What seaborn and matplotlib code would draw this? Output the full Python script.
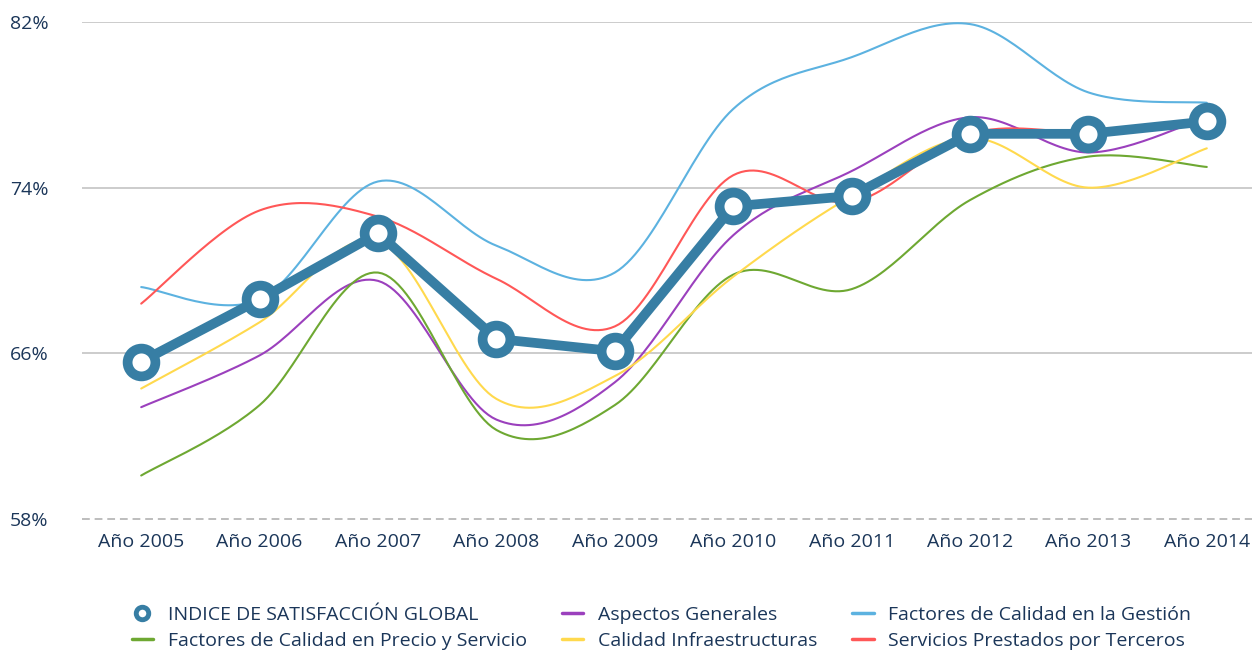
import numpy as np
import pandas as pd
import matplotlib
matplotlib.use("Agg")
import matplotlib.pyplot as plt
import seaborn as sns
from matplotlib.lines import Line2D

years = ["Año 2005", "Año 2006", "Año 2007", "Año 2008", "Año 2009",
         "Año 2010", "Año 2011", "Año 2012", "Año 2013", "Año 2014"]

indice_global = [65.6, 68.6, 71.8, 66.7, 66.1, 73.1, 73.6, 76.6, 76.6, 77.2]
aspectos_generales = [63.4, 65.9, 69.5, 62.8, 64.6, 71.7, 74.8, 77.4, 75.7, 77.4]
calidad_gestion = [69.2, 68.6, 74.3, 71.2, 69.9, 77.8, 80.3, 81.9, 78.6, 78.1]
precio_servicio = [60.1, 63.5, 69.9, 62.3, 63.5, 69.8, 69.1, 73.4, 75.5, 75.0]
infraestructuras = [64.3, 67.5, 71.4, 63.8, 64.9, 69.7, 73.6, 76.4, 74.0, 75.9]
servicios_terceros = [68.4, 72.9, 72.6, 69.6, 67.3, 74.6, 73.3, 76.6, 76.7, 77.0]

y_ticks = [58, 66, 74, 82]

navy = "#1b3659"
main_color = "#377ea4"

series = [
    ("Aspectos Generales", aspectos_generales, "#9b40bd"),
    ("Factores de Calidad en la Gestión", calidad_gestion, "#5cb2e0"),
    ("Factores de Calidad en Precio y Servicio", precio_servicio, "#6ea832"),
    ("Calidad Infraestructuras", infraestructuras, "#ffd94d"),
    ("Servicios Prestados por Terceros", servicios_terceros, "#ff5757"),
]


def smooth_curve(values, steps=30):
    # bezier smoothing like the "smoothed line" option of spreadsheet charts
    x = np.arange(len(values), dtype=float)
    y = np.asarray(values, dtype=float)
    xs, ys = [], []
    for i in range(len(x) - 1):
        i0, i3 = max(i - 1, 0), min(i + 2, len(x) - 1)
        p0, p1, p2, p3 = (np.array([x[j], y[j]]) for j in (i0, i, i + 1, i3))
        c1 = p1 + (p2 - p0) / 6
        c2 = p2 - (p3 - p1) / 6
        t = np.linspace(0, 1, steps)[:, None]
        pts = ((1 - t) ** 3) * p1 + 3 * ((1 - t) ** 2) * t * c1 + 3 * (1 - t) * t ** 2 * c2 + t ** 3 * p2
        xs.extend(pts[:, 0])
        ys.extend(pts[:, 1])
    return np.array(xs), np.array(ys)


sns.set_theme(style="white")
plt.rcParams['font.family'] = ['Open Sans', 'DejaVu Sans']

fig = plt.figure(figsize=(12.52, 6.53), dpi=100)
ax = fig.add_axes([82 / 1252, 1 - 519 / 653, (1266 - 82) / 1252, (519 - 22) / 653])

for label, vals, color in series:
    sx, sy = smooth_curve(vals)
    sns.lineplot(x=sx, y=sy, ax=ax, color=color, linewidth=1.5, sort=False, estimator=None)

df = pd.DataFrame({"x": range(len(years)), "y": indice_global})
sns.lineplot(data=df, x="x", y="y", ax=ax, color=main_color, linewidth=7)
sns.scatterplot(data=df, x="x", y="y", ax=ax, s=20 ** 2, color="white",
                edgecolor=main_color, linewidth=7, zorder=6)

ax.set_xlim(-0.5, 9.5)
ax.set_ylim(58, 82)
ax.set_yticks(y_ticks)
ax.set_yticklabels([f"{v}%" for v in y_ticks])
ax.set_xticks(range(len(years)))
ax.set_xticklabels(years)
ax.set_xlabel("")
ax.set_ylabel("")
for v in y_ticks[1:]:
    ax.axhline(v, color="#c4c4c4", linewidth=1.2, zorder=0)
ax.axhline(58, color="#bdbdbd", linewidth=1.4, linestyle=(0, (4, 2.5)), zorder=0, clip_on=False)
for s in ax.spines.values():
    s.set_visible(False)
ax.tick_params(axis="both", length=0, labelsize=14, colors=navy)
ax.tick_params(axis="x", pad=10)
ax.tick_params(axis="y", pad=24)

handles = [Line2D([], [], color=main_color, linewidth=0, marker="o", markersize=9,
                  markeredgewidth=3.5, markerfacecolor="white", markeredgecolor=main_color)]
labels = ["INDICE DE SATISFACCIÓN GLOBAL"]
for label, vals, color in series:
    handles.append(Line2D([], [], color=color, linewidth=2.5))
    labels.append(label)
# legend fills by column, so reorder to read row by row
order = [0, 3, 1, 4, 2, 5]
fig.legend([handles[i] for i in order], [labels[i] for i in order],
           loc="upper left", bbox_to_anchor=(124 / 1252, 1 - 598 / 653), ncol=3,
           frameon=False, fontsize=14, labelcolor=navy, handlelength=1.1,
           handletextpad=0.75, columnspacing=1.8, labelspacing=0.4, borderaxespad=0)

fig.savefig("out.png", dpi=100)
plt.close(fig)
